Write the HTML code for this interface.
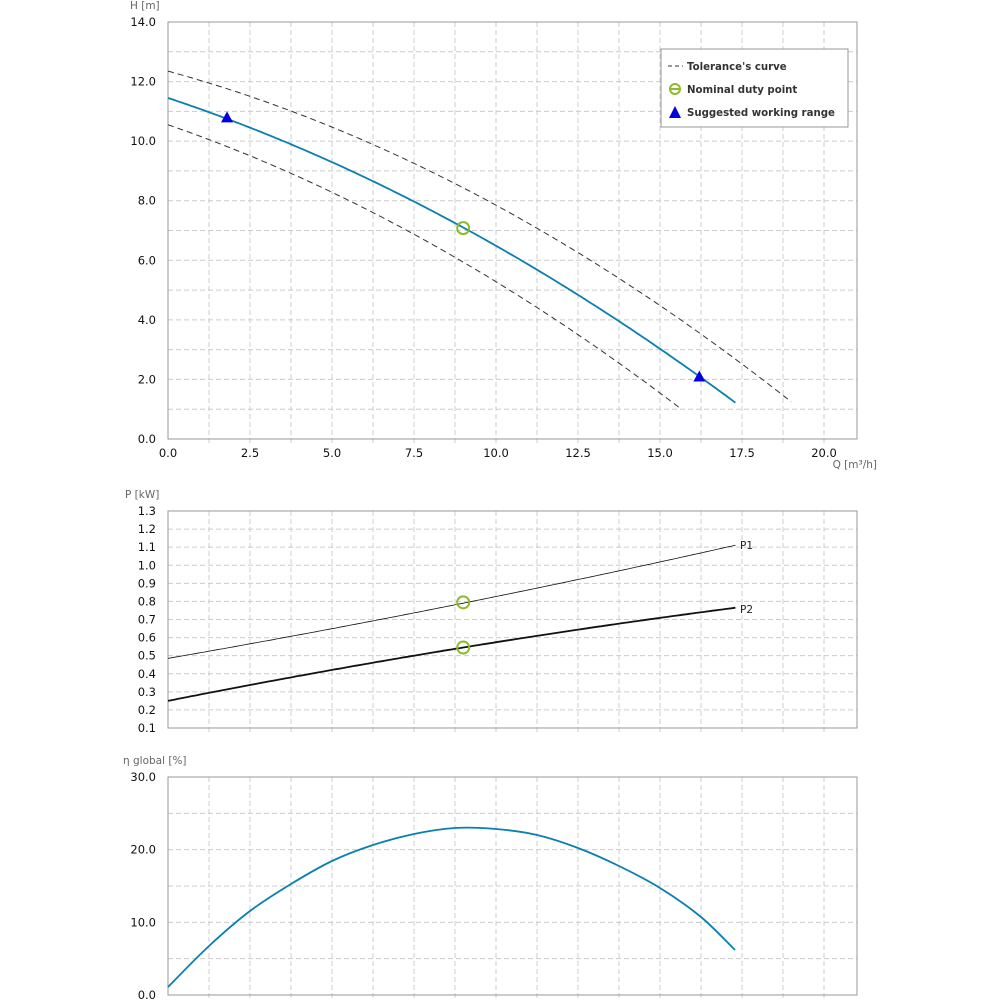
<!DOCTYPE html>
<html><head><meta charset="utf-8"><style>
body{margin:0;background:#fff}
svg text{font-family:"DejaVu Sans","Liberation Sans",sans-serif}
</style></head><body>
<svg id="s" width="1000" height="1000" xmlns="http://www.w3.org/2000/svg"></svg>
<script>
const s=document.getElementById('s');let h='';
const X0=168,X1=857,px=32.8;const qx=q=>X0+q*px;
function panel(top,bot,vmin,vmax,step,gstep,fmt,label,lx){
 const yv=v=>bot-(v-vmin)/(vmax-vmin)*(bot-top);
 for(let q=1.25;q<21;q+=1.25){h+=`<line x1="${qx(q)}" y1="${top}" x2="${qx(q)}" y2="${bot+4}" stroke="#ccc" stroke-dasharray="5,3"/>`;}
 for(let v=vmin+gstep;v<vmax-1e-9;v+=gstep){h+=`<line x1="${X0}" y1="${yv(v)}" x2="${X1}" y2="${yv(v)}" stroke="#ccc" stroke-dasharray="5,3"/>`;}
 h+=`<rect x="${X0}" y="${top}" width="${X1-X0}" height="${bot-top}" fill="none" stroke="#999"/>`;
 for(let v=vmin;v<=vmax+1e-9;v+=step){h+=`<text x="156" y="${yv(v)+4}" font-size="11.5" text-anchor="end" fill="#111">${v.toFixed(fmt)}</text>`;}
 h+=`<text x="${lx}" y="${top-13}" font-size="10.5" fill="#666">${label}</text>`;
 return yv;
}
function path(f,a,b,yv,attr){let d='';for(let q=a;q<=b+1e-9;q+=0.1){d+=(d?'L':'M')+qx(q).toFixed(1)+','+yv(f(q)).toFixed(1);}h+=`<path d="${d}" fill="none" ${attr}/>`;}
// Panel 1
let y1=panel(22,439,0,14,2,1,1,'H [m]',130);
for(let q=0;q<=20;q+=2.5)h+=`<text x="${qx(q)}" y="457" font-size="11.5" text-anchor="middle" fill="#111">${q.toFixed(1)}</text>`;
h+=`<text x="877" y="468" font-size="10.5" text-anchor="end" fill="#666">Q [m³/h]</text>`;
path(q=>12.35-0.301*q-0.01491*q*q,0,19,y1,'stroke="#333" stroke-dasharray="6,4"');
path(q=>10.55-0.38*q-0.0147*q*q,0,15.6,y1,'stroke="#333" stroke-dasharray="6,4"');
path(q=>11.45-0.366*q-0.01303*q*q,0,17.3,y1,'stroke="#0a7fb0" stroke-width="1.8"');
h+=`<circle cx="${qx(9)}" cy="${y1(7.08)}" r="6" fill="none" stroke="#8db92e" stroke-width="2"/>`;
const tri=(x,y)=>`<polygon points="${x-6},${y+5} ${x+6},${y+5} ${x},${y-6}" fill="#0000e0"/>`;
h+=tri(qx(1.8),y1(10.8))+tri(qx(16.2),y1(2.1));
h+=`<rect x="661" y="49" width="187" height="78" fill="#fff" stroke="#999"/>`;
h+=`<line x1="668" y1="66" x2="683" y2="66" stroke="#333" stroke-dasharray="4,3"/><text x="687" y="70" font-size="10.2" font-weight="bold" fill="#333">Tolerance's curve</text>`;
h+=`<circle cx="675" cy="89" r="5" fill="none" stroke="#8db92e" stroke-width="2"/><line x1="670" y1="89" x2="680" y2="89" stroke="#8db92e" stroke-width="2"/><text x="687" y="93" font-size="10.2" font-weight="bold" fill="#333">Nominal duty point</text>`;
h+=`<polygon points="669,118 681,118 675,106" fill="#0000e0"/><text x="687" y="116" font-size="10.2" font-weight="bold" fill="#333">Suggested working range</text>`;
// Panel 2
let y2=panel(511,728,0.1,1.3,0.1,0.1,1,'P [kW]',125);
path(q=>0.485+0.0315*q+0.00027*q*q,0,17.3,y2,'stroke="#111" stroke-width="0.8"');
path(q=>0.25+0.03605*q-0.000363*q*q,0,17.3,y2,'stroke="#111" stroke-width="1.8"');
h+=`<circle cx="${qx(9)}" cy="${y2(0.795)}" r="6" fill="none" stroke="#8db92e" stroke-width="2"/>`;
h+=`<circle cx="${qx(9)}" cy="${y2(0.545)}" r="6" fill="none" stroke="#8db92e" stroke-width="2"/>`;
h+=`<text x="740" y="549" font-size="10.5" fill="#222">P1</text><text x="740" y="613" font-size="10.5" fill="#222">P2</text>`;
// Panel 3
let y3=panel(777,995,0,30,10,5,1,'η global [%]',123);
const P=[[168,987],[209,946],[250,911],[291,884],[332,861],[373,845],[414,834],[455,828],[496,829],[537,835],[578,848],[619,866],[660,888],[701,917],[735,950]];
let d='M'+P[0];for(let i=0;i<P.length-1;i++){const p0=P[Math.max(i-1,0)],p1=P[i],p2=P[i+1],p3=P[Math.min(i+2,P.length-1)];
d+=`C${p1[0]+(p2[0]-p0[0])/6},${p1[1]+(p2[1]-p0[1])/6} ${p2[0]-(p3[0]-p1[0])/6},${p2[1]-(p3[1]-p1[1])/6} ${p2[0]},${p2[1]}`;}
h+=`<path d="${d}" fill="none" stroke="#0a7fb0" stroke-width="1.8"/>`;
s.innerHTML=h;
</script>
</body></html>
